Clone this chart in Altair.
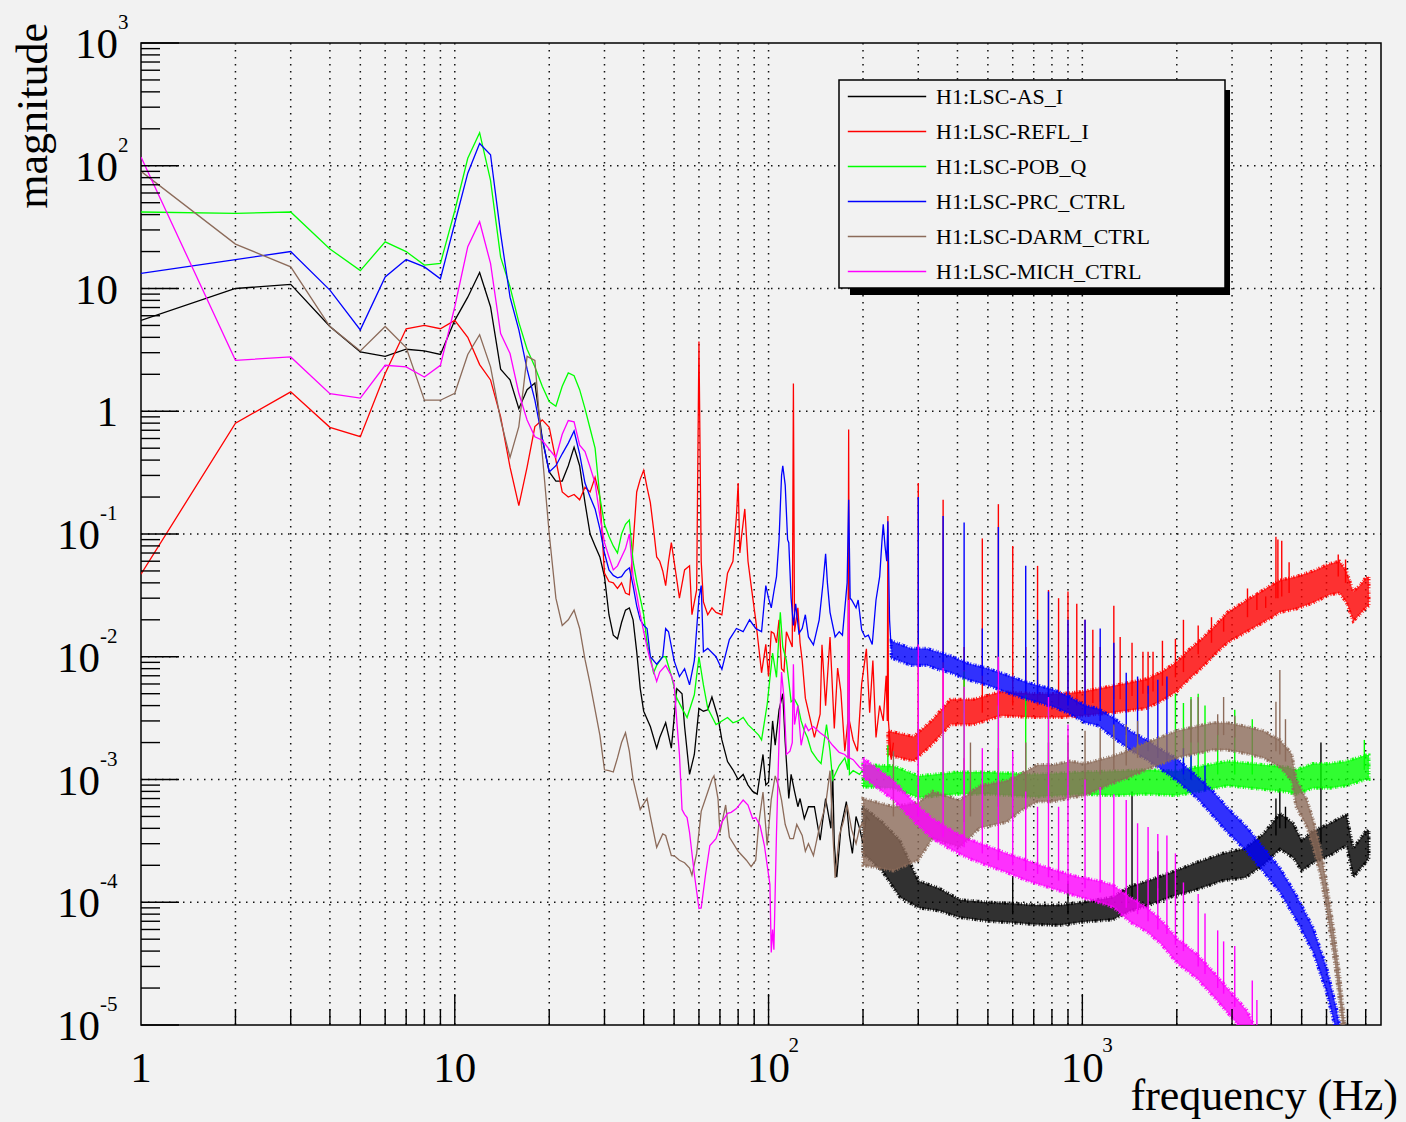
import altair as alt
import pandas as pd

W, H = 1240, 982
BG = "#f2f2f2"
FONT = "Liberation Serif"

NAMES = ["H1:LSC-AS_I", "H1:LSC-REFL_I", "H1:LSC-POB_Q", "H1:LSC-PRC_CTRL",
         "H1:LSC-DARM_CTRL", "H1:LSC-MICH_CTRL"]
COLORS = ["#000000", "#ff0000", "#00ff00", "#0000ff", "#8c6b5a", "#ff00ff"]

# ---------------- traces (frequency Hz, magnitude) ----------------
AS_TRACE = [(1,5.5),(2,10),(3,10.8),(4,4.9),(5,3.05),(6,2.8),(7,3.2),(8,3.1),(9,2.9),(10,5.5),
    (11,8.5),(12,13.5),(13,7.1),(14,2.2),(15,1.8),(16,1.05),(17,1.5),(18,1.7),(19,0.6),(20,0.32),
    (21,0.27),(22,0.27),(23,0.36),(24,0.51),(25,0.36),(26,0.18),(27,0.10),(28,0.08),(29,0.065),(30,0.045),
    (31,0.022),(32,0.015),(33,0.014),(34,0.019),(35,0.024),(36,0.025),(37,0.02),(38,0.011),(39,0.0055),(40,0.0036),
    (42,0.0027),(44,0.0018),(45,0.0022),(47,0.0029),(49,0.0018),(51,0.0055),(53,0.005),(54,0.0027),(56,0.0011),(58,0.0016),
    (60,0.0038),(62,0.0036),(64,0.0037),(66,0.0047),(69,0.0032),(71,0.0021),(74,0.0014),(77,0.0012),(80,0.001),(83,0.0011),
    (86,0.0009),(89,0.0008),(92,0.00076),(96,0.0016),(98,0.0009),(100,0.00095),(103,0.003),(105,0.0019),(108,0.0037),(111,0.005),
    (113,0.002),(116,0.0007),(118,0.0011),(121,0.0008),(124,0.0006),(126,0.0007),(130,0.00048),(134,0.0006),(140,0.0006),(146,0.00032),
    (152,0.0007),(158,0.0004),(160,0.0012),(162,0.0003),(165,0.00016),(170,0.0004),(177,0.00066),(181,0.00035),(185,0.00025),(190,0.0005),
    (195,0.0004),(200,0.0003),(205,0.0005),(210,0.00046)]

REFL_TRACE = [(1,0.047),(2,0.8),(3,1.44),(4,0.74),(5,0.62),(6,2.03),(7,4.7),(8,5.0),(9,4.7),(10,5.5),
    (11,4.0),(12,2.4),(13,1.8),(14,0.9),(15,0.35),(16,0.17),(17,0.35),(18,0.75),(19,0.85),(20,0.74),
    (21,0.4),(22,0.22),(23,0.2),(24,0.21),(25,0.19),(26,0.24),(27,0.22),(28,0.29),(29,0.2),(30,0.048),
    (31,0.041),(32,0.04),(33,0.036),(34,0.04),(35,0.033),(36,0.032),(37,0.082),(38,0.22),(39,0.28),(40,0.33),
    (41,0.24),(42,0.18),(43,0.11),(44,0.065),(45,0.06),(46,0.05),(47,0.038),(48,0.06),(49,0.085),(50,0.06),
    (52,0.03),(54,0.051),(56,0.055),(57,0.022),(59,0.035),(60,3.7),(61,0.06),(62,0.028),(64,0.022),(66,0.025),
    (68,0.023),(71,0.022),(74,0.048),(77,0.06),(79,0.14),(80,0.26),(81,0.07),(82,0.095),(84,0.16),(86,0.06),
    (88,0.038),(91,0.02),(95,0.0074),(98,0.0126),(100,0.0069),(102,0.016),(104,0.0155),(106,0.013),(108,0.02),(110,0.008),
    (112,0.0076),(114,0.016),(119,0.012),(120,1.68),(121,0.016),(124,0.025),(126,0.013),(128,0.0093),(131,0.0046),(137,0.0028),
    (140,0.0022),(146,0.0034),(148,0.0125),(152,0.004),(157,0.0145),(162,0.0026),(166,0.0081),(170,0.0052),(175,0.0017),(179,0.003),
    (180,0.71),(181,0.003),(186,0.0021),(192,0.0017),(198,0.006),(205,0.0116),(210,0.0035),(215,0.0093),(220,0.0022),(226,0.004),
    (232,0.003),(237,0.007),(239,0.003),(240,0.14),(241,0.003),(246,0.00145),(250,0.002)]

POB_TRACE = [(1,42),(2,41),(3,42),(4,21),(5,14),(6,24),(7,20),(8,15.5),(9,16),(10,43),
    (11,115),(12,186),(13,76),(14,18),(15,10.3),(16,5.3),(17,3.2),(18,2.3),(19,1.6),(20,1.2),
    (21,1.1),(22,1.6),(23,2.05),(24,1.95),(25,1.5),(26,1.05),(27,0.72),(28,0.5),(29,0.2),(30,0.12),
    (31,0.096),(32,0.08),(33,0.07),(34,0.1),(35,0.12),(36,0.13),(37,0.06),(38,0.041),(39,0.03),(40,0.022),
    (41,0.013),(42,0.01),(43,0.0074),(44,0.0085),(46,0.01),(47,0.01),(49,0.007),(51,0.0046),(53,0.0038),(55,0.0032),
    (58,0.0049),(60,0.01),(62,0.0059),(64,0.0038),(68,0.0028),(71,0.003),(74,0.0032),(77,0.0029),(80,0.003),(83,0.0032),
    (86,0.0028),(90,0.0025),(93,0.0023),(95,0.0021),(99,0.0041),(103,0.0107),(106,0.0068),(109,0.023),(111,0.012),(114,0.0093),
    (118,0.0043),(121,0.0045),(124,0.004),(127,0.003),(130,0.0025),(133,0.0022),(137,0.0017),(143,0.00145),(147,0.00135),(153,0.0028),
    (157,0.0017),(160,0.001),(168,0.0013),(175,0.0015),(179,0.0012),(180,0.0052),(181,0.0011),(186,0.00118),(195,0.0011),(200,0.0012)]

PRC_TRACE = [(1,13.3),(2,17.2),(3,20),(4,9.7),(5,4.6),(6,12.4),(7,17.2),(8,15),(9,12),(10,34),
    (11,87),(12,152),(13,123),(14,28),(15,8.5),(16,4.6),(17,2.2),(18,1.23),(19,0.6),(20,0.32),
    (21,0.36),(22,0.45),(23,0.55),(24,0.69),(25,0.45),(26,0.26),(27,0.2),(28,0.16),(29,0.11),(30,0.07),
    (31,0.051),(32,0.046),(33,0.044),(34,0.045),(35,0.05),(36,0.053),(37,0.038),(38,0.026),(39,0.02),(40,0.018),
    (41,0.017),(42,0.01),(44,0.0087),(46,0.01),(47,0.017),(48,0.016),(50,0.0093),(52,0.0069),(54,0.008),(56,0.0059),
    (58,0.0093),(60,0.03),(61,0.038),(62,0.011),(64,0.0117),(68,0.01),(71,0.0079),(75,0.0138),(79,0.017),(83,0.016),
    (87,0.02),(91,0.017),(95,0.016),(98,0.038),(100,0.03),(102,0.025),(104,0.034),(106,0.045),(108,0.09),(110,0.3),
    (111,0.36),(113,0.25),(115,0.09),(116,0.085),(118,0.03),(120,0.018),(122,0.027),(125,0.0155),(128,0.017),(131,0.022),
    (134,0.0145),(139,0.0125),(145,0.02),(149,0.039),(152,0.069),(154,0.04),(157,0.023),(163,0.0145),(168,0.016),(172,0.015),
    (178,0.04),(180,0.19),(182,0.03),(184,0.029),(190,0.025),(193,0.029),(198,0.0166),(203,0.0145),(208,0.015),(214,0.0126),
    (220,0.029),(226,0.045),(230,0.09),(232,0.12),(235,0.08),(238,0.06),(240,0.127),(243,0.02),(246,0.0115)]

DARM_TRACE = [(1,90),(2,23),(3,15),(4,4.9),(5,3.1),(6,4.9),(7,3.3),(8,1.23),(9,1.23),(10,1.4),
    (11,2.9),(12,4.2),(13,2.3),(14,0.85),(15,0.42),(16,0.75),(17,2.8),(18,2.6),(19,0.45),(20,0.1),
    (21,0.03),(22,0.018),(23,0.02),(24,0.024),(25,0.017),(26,0.0095),(27,0.006),(28,0.0037),(29,0.0023),(30,0.0012),
    (31,0.00118),(32,0.00115),(33,0.0015),(34,0.002),(35,0.0024),(36,0.0017),(37,0.001),(38,0.00075),(39,0.00057),(41,0.0007),
    (42,0.0005),(44,0.00028),(46,0.00036),(47,0.00035),(49,0.00024),(50,0.00024),(52,0.00022),(54,0.00021),(56,0.00019),(57,0.000166),
    (59,0.00025),(61,0.00055),(64,0.00079),(66,0.001),(67,0.00107),(69,0.0007),(70,0.00037),(73,0.00062),(75,0.00034),(80,0.00026),
    (85,0.00022),(88,0.000195),(91,0.00022),(93,0.00043),(96,0.00079),(99,0.00029),(102,0.00069),(105,0.00107),(108,0.00085),(110,0.00068),
    (113,0.00043),(117,0.00033),(120,0.00033),(123,0.00043),(128,0.00035),(131,0.00026),(134,0.0003),(139,0.00024),(145,0.0004),(152,0.00062),
    (157,0.00118),(160,0.0004),(163,0.000158),(168,0.00035),(173,0.00045),(178,0.00062),(184,0.00039),(190,0.0003),(195,0.0004),(200,0.00045)]

MICH_TRACE = [(1,118),(2,2.6),(3,2.77),(4,1.39),(5,1.28),(6,2.37),(7,2.3),(8,1.9),(9,2.37),(10,7.1),
    (11,21.9),(12,35),(13,16),(14,4.3),(15,2.95),(16,1.4),(17,0.85),(18,0.62),(19,0.58),(20,0.49),
    (21,0.42),(22,0.65),(23,0.84),(24,0.82),(25,0.53),(26,0.47),(27,0.35),(28,0.26),(29,0.14),(30,0.085),
    (31,0.065),(32,0.051),(33,0.055),(34,0.065),(35,0.076),(36,0.1),(37,0.045),(38,0.032),(39,0.022),(40,0.016),
    (41,0.012),(42,0.0093),(44,0.0063),(45,0.0075),(47,0.0085),(49,0.007),(50,0.006),(51,0.003),(52,0.0016),(53,0.00057),
    (54,0.00052),(55,0.00049),(56,0.00037),(58,0.00017),(60,8.9e-5),(61,9e-5),(63,0.00017),(65,0.00029),(68,0.00033),(71,0.00045),
    (74,0.00053),(76,0.00054),(79,0.00058),(83,0.00068),(86,0.00062),(89,0.00048),(91,0.00049),(94,0.00042),(97,0.00029),(99,0.0002),
    (101,0.00014),(102,3.9e-5),(103,6e-5),(104,4.1e-5),(106,0.00037),(108,0.0021),(110,0.0075),(112,0.0046),(114,0.0016),(117,0.0017),
    (119,0.002),(120,0.0087),(121,0.0028),(124,0.004),(127,0.0019),(131,0.0028),(134,0.0025),(139,0.0027),(146,0.0024),(153,0.0022),
    (160,0.0019),(168,0.00166),(175,0.0016),(179,0.0015),(180,0.029),(181,0.0015),(186,0.00145),(195,0.00126),(200,0.0012)]

# ---------------- dense-noise envelopes (frequency, low, high) ----------------
AS_BAND = [(200,2.5e-4,6e-4),(230,1.8e-4,4.5e-4),(262,1.1e-4,3.2e-4),(300,9e-5,1.5e-4),(350,8.5e-5,1.3e-4),
    (407,7.5e-5,1.05e-4),(500,7e-5,1.0e-4),(600,6.8e-5,9.8e-5),(700,6.6e-5,9.5e-5),(850,6.5e-5,9.5e-5),
    (1000,6.9e-5,1.0e-4),(1250,7.2e-5,1.1e-4),(1420,8.5e-5,1.35e-4),(1600,9.3e-5,1.48e-4),
    (1950,1.12e-4,1.78e-4),(2300,1.26e-4,2.1e-4),(2800,1.5e-4,2.5e-4),(3300,1.58e-4,2.75e-4),(3770,2.0e-4,3.6e-4),
    (4265,2.7e-4,5.3e-4),(4700,2.3e-4,4.4e-4),(5000,1.8e-4,3.2e-4),(5440,2.1e-4,3.8e-4),(6150,2.4e-4,4.4e-4),
    (6950,2.9e-4,5.2e-4),(7300,1.6e-4,2.75e-4),(8000,2.1e-4,3.8e-4),(8192,2.3e-4,3.9e-4)]

REFL_BAND = [(240,1.58e-3,2.5e-3),(290,1.41e-3,2.24e-3),(330,1.9e-3,3.0e-3),(380,2.8e-3,4.5e-3),(450,2.8e-3,4.5e-3),
    (550,3.3e-3,5.2e-3),(700,3.2e-3,5.0e-3),(850,3.2e-3,5.0e-3),(1000,3.3e-3,5.2e-3),(1250,3.5e-3,5.8e-3),
    (1600,3.8e-3,6.6e-3),(1800,4.4e-3,7.6e-3),(2000,5.2e-3,9.1e-3),(2150,6.3e-3,1.1e-2),(2400,8.1e-3,1.4e-2),
    (2650,1.05e-2,1.8e-2),(2900,1.3e-2,2.3e-2),(3340,1.6e-2,2.9e-2),(3770,1.9e-2,3.5e-2),(4265,2.3e-2,4.2e-2),
    (4800,2.45e-2,4.5e-2),(5440,2.75e-2,5.0e-2),(6150,3.2e-2,5.75e-2),(6600,3.3e-2,6.0e-2),(6950,2.75e-2,5.0e-2),
    (7300,1.95e-2,3.4e-2),(7650,2.2e-2,3.8e-2),(8000,2.5e-2,4.4e-2),(8192,2.6e-2,4.5e-2)]

POB_BAND = [(200,8.7e-4,1.32e-3),(250,8.5e-4,1.29e-3),(300,7.1e-4,1.07e-3),(400,7.6e-4,1.15e-3),(500,7.6e-4,1.15e-3),
    (700,7.2e-4,1.1e-3),(1000,7.6e-4,1.15e-3),(1250,7.4e-4,1.17e-3),(1600,7.6e-4,1.2e-3),(2000,7.4e-4,1.17e-3),
    (2300,7.9e-4,1.26e-3),(2900,8.9e-4,1.41e-3),(3770,8.3e-4,1.32e-3),(4500,7.9e-4,1.26e-3),(4800,7.6e-4,1.2e-3),
    (5440,8.5e-4,1.35e-3),(6150,8.5e-4,1.35e-3),(6950,8.9e-4,1.41e-3),(8000,1.0e-3,1.58e-3),(8192,1.0e-3,1.58e-3)]

PRC_BAND = [(246,9.8e-3,1.35e-2),(264,9.1e-3,1.26e-2),(285,8.5e-3,1.17e-2),(320,8.5e-3,1.17e-2),(345,7.9e-3,1.1e-2),
    (380,7.4e-3,1.02e-2),(430,6.5e-3,8.9e-3),(495,5.9e-3,8.1e-3),(575,5.1e-3,7.1e-3),(665,4.5e-3,6.2e-3),
    (810,3.9e-3,5.4e-3),(915,3.4e-3,4.7e-3),(1020,2.9e-3,4.0e-3),(1120,2.75e-3,3.8e-3),(1254,2.2e-3,3.2e-3),
    (1418,1.74e-3,2.5e-3),(1605,1.45e-3,2.1e-3),(1790,1.2e-3,1.74e-3),(2000,9.8e-4,1.48e-3),(2313,7.1e-4,1.07e-3),
    (2600,5.1e-4,8.1e-4),(2900,3.7e-4,5.9e-4),(3340,2.6e-4,4.1e-4),(3770,1.78e-4,2.8e-4),(4265,1.2e-4,1.9e-4),
    (4800,7.2e-5,1.15e-4),(5440,3.9e-5,6.2e-5),(6000,1.86e-5,2.95e-5),(6450,8.7e-6,1.38e-5),(6800,4e-6,6.5e-6)]

DARM_BAND = [(200,2e-4,7e-4),(250,1.8e-4,6e-4),(300,2.2e-4,6.5e-4),(333,3.3e-4,8e-4),(407,2.8e-4,6.8e-4),
    (470,4.0e-4,8.9e-4),(575,4.5e-4,9.8e-4),(640,5.6e-4,1.12e-3),(720,6.6e-4,1.32e-3),(810,6.6e-4,1.32e-3),
    (915,7.1e-4,1.41e-3),(1020,7.4e-4,1.35e-3),(1250,9.3e-4,1.55e-3),(1420,1.05e-3,1.74e-3),(1600,1.2e-3,2.0e-3),
    (1800,1.35e-3,2.24e-3),(2000,1.5e-3,2.5e-3),(2300,1.62e-3,2.7e-3),(2600,1.74e-3,2.9e-3),(2900,1.74e-3,2.9e-3),
    (3340,1.62e-3,2.7e-3),(3770,1.5e-3,2.5e-3),(4265,1.26e-3,2.1e-3),(4650,9.8e-4,1.62e-3),(4800,6.0e-4,1.0e-3),
    (5200,4.1e-4,6.8e-4),(5440,2.8e-4,4.7e-4),(5750,1.62e-4,2.7e-4),(6000,8.7e-5,1.45e-4),(6350,3.4e-5,5.6e-5),
    (6600,1.58e-5,2.6e-5),(6800,7.6e-6,1.26e-5),(7000,3.8e-6,6.3e-6)]

MICH_BAND = [(200,1.05e-3,1.5e-3),(250,6.8e-4,9.8e-4),(295,4.4e-4,6.3e-4),(333,3.3e-4,4.8e-4),(380,2.7e-4,3.9e-4),
    (430,2.3e-4,3.3e-4),(495,2.0e-4,2.9e-4),(575,1.74e-4,2.5e-4),(665,1.5e-4,2.2e-4),(780,1.32e-4,1.9e-4),
    (960,1.12e-4,1.62e-4),(1125,1.0e-4,1.5e-4),(1254,9.1e-5,1.38e-4),(1418,6.9e-5,1.1e-4),(1605,5.75e-5,9.1e-5),
    (1790,4.5e-5,7.1e-5),(2000,3.2e-5,5.1e-5),(2313,2.4e-5,3.8e-5),(2600,1.74e-5,2.75e-5),(2900,1.26e-5,2.0e-5),
    (3340,8.3e-6,1.32e-5),(3600,5.6e-6,8.9e-6)]

# ---------------- line spikes (frequency, base, peak) ----------------
AS_SPIKES = [(600,8e-5,1.6e-4),(900,8e-5,1.5e-4),(1440,1.1e-4,8e-4),(1740,1.3e-4,2.6e-4),(4140,3.5e-4,7e-4),
    (4260,4e-4,8.5e-4),(4440,4e-4,6e-4),(5760,3e-4,2e-3)]

REFL_SPIKES = [(300,1.7e-3,0.26),(360,2.4e-3,0.19),(420,3.5e-3,0.012),(480,3.5e-3,0.092),(540,4e-3,0.175),
    (600,4e-3,0.08),(660,4e-3,0.012),(720,4e-3,0.055),(780,4e-3,0.035),(840,4e-3,0.03),(900,4e-3,0.034),
    (960,4e-3,0.027),(1020,4.2e-3,0.02),(1080,4.2e-3,0.0166),(1140,4.3e-3,0.012),(1260,4.5e-3,0.026),
    (1320,4.5e-3,0.0145),(1440,4.8e-3,0.013),(1560,5e-3,0.011),(1620,5e-3,0.011),(1680,5.2e-3,0.011),
    (1800,5.8e-3,0.0135),(1980,6.8e-3,0.014),(2100,7.5e-3,0.02),(2340,1.05e-2,0.018),(2580,1.3e-2,0.021),
    (2820,1.6e-2,0.021),(3360,2.1e-2,0.036),(3600,2.4e-2,0.033),(3840,2.5e-2,0.031),(4140,3e-2,0.095),
    (4200,3e-2,0.09),(4320,3.1e-2,0.088),(4560,3.3e-2,0.059),(6540,4.5e-2,0.068),(6900,4e-2,0.062)]

POB_SPIKES = [(240,1.15e-3,1.9e-3),(360,1e-3,3.6e-3),(420,1e-3,7.6e-3),(540,1e-3,4e-3),(660,1e-3,4.9e-3),
    (780,9.5e-4,3.6e-3),(900,9.5e-4,2e-3),(1980,1e-3,5e-3),(2100,1e-3,4.2e-3),(2220,1e-3,4.7e-3),
    (2340,1e-3,5e-3),(2460,1e-3,4e-3),(2700,1.1e-3,2.8e-3),(3060,1.1e-3,3.7e-3),(3480,1.1e-3,3.1e-3),
    (7920,1.2e-3,2.1e-3)]

PRC_SPIKES = [(300,1e-2,0.2),(360,9e-3,0.14),(420,7.8e-3,0.124),(480,7e-3,0.017),(540,6e-3,0.114),
    (660,5.2e-3,0.055),(720,5e-3,0.02),(780,4.6e-3,0.034),(900,4e-3,0.02),(1020,3.4e-3,0.02),
    (1140,3e-3,0.017),(1260,2.7e-3,0.013),(1380,2.3e-3,0.0074),(1500,2e-3,0.0069),(1620,1.7e-3,0.0058),
    (1740,1.5e-3,0.0065),(1860,1.4e-3,0.0069),(2100,1.1e-3,0.0018),(2220,1e-3,0.0016),(2460,8e-4,0.0013)]

DARM_SPIKES = [(250,5e-4,1.7e-3),(300,5e-4,2.8e-3),(420,4.5e-4,1.5e-3),(440,5e-4,2e-3),(540,6e-4,1.8e-3),
    (660,7e-4,2e-3),(780,9e-4,2e-3),(900,1e-3,2.3e-3),(1020,1e-3,2.5e-3),(1140,1.1e-3,2.6e-3),
    (1260,1.2e-3,2.8e-3),(1380,1.3e-3,2.8e-3),(1500,1.5e-3,3e-3),(2220,2e-3,4.5e-3),(2340,2e-3,4.7e-3),
    (2700,2.3e-3,3.4e-3),(2820,2.3e-3,4.7e-3),(3060,2.2e-3,3.3e-3),(4140,1.7e-3,4.3e-3),(4260,1.6e-3,7.8e-3),
    (4440,1.4e-3,3.1e-3)]

MICH_SPIKES = [(300,5e-4,0.0126),(360,3.4e-4,0.0081),(420,2.8e-4,0.0057),(480,2.5e-4,0.0018),(540,2.2e-4,0.01),
    (600,2e-4,0.0017),(660,1.8e-4,8e-4),(720,1.7e-4,6e-4),(780,1.6e-4,0.0047),(840,1.5e-4,6e-4),
    (900,1.4e-4,0.0028),(1020,1.3e-4,0.001),(1140,1.2e-4,8.7e-4),(1260,1.1e-4,7.6e-4),(1380,9e-5,6.8e-4),
    (1500,8e-5,4.4e-4),(1620,7e-5,4.1e-4),(1740,6e-5,3.6e-4),(1860,5.5e-5,3.5e-4),(1980,4.5e-5,2.5e-4),
    (2100,4e-5,1.45e-4),(2340,3e-5,1.17e-4),(2460,2.6e-5,8.1e-5),(2700,2e-5,5.9e-5),(2820,1.8e-5,4.8e-5),
    (3060,1.4e-5,4.4e-5),(3480,8e-6,2.3e-5),(3600,6e-6,1.6e-5)]

SERIES = [
    (NAMES[0], COLORS[0], AS_TRACE, AS_BAND, AS_SPIKES),
    (NAMES[1], COLORS[1], REFL_TRACE, REFL_BAND, REFL_SPIKES),
    (NAMES[2], COLORS[2], POB_TRACE, POB_BAND, POB_SPIKES),
    (NAMES[3], COLORS[3], PRC_TRACE, PRC_BAND, PRC_SPIKES),
    (NAMES[4], COLORS[4], DARM_TRACE, DARM_BAND, DARM_SPIKES),
    (NAMES[5], COLORS[5], MICH_TRACE, MICH_BAND, MICH_SPIKES),
]

# ---------------- axis ticks / labels ----------------
X_MAJOR = [10, 100, 1000]
X_MINOR = [m * 10 ** e for e in range(4) for m in range(2, 10) if m * 10 ** e < 8950]
X_GRID = [m * 10 ** e for e in range(4) for m in range(1, 10) if 1 < m * 10 ** e < 8950]
Y_MAJOR = [1e-5, 1e-4, 1e-3, 1e-2, 1e-1, 1, 10, 100, 1000]
Y_MINOR = [m * 10.0 ** e for e in range(-5, 3) for m in range(2, 10)]
Y_GRID = [1e-4, 1e-3, 1e-2, 1e-1, 1, 10, 100]

X_LABELS = pd.DataFrame({"v": [1, 10, 100, 1000], "base": ["1", "10", "10", "10"], "exp": ["", "", "2", "3"]})
Y_LABELS = pd.DataFrame({"v": [1000, 100, 10, 1, 0.1, 0.01, 0.001, 1e-4, 1e-5],
                         "base": ["10", "10", "10", "1", "10", "10", "10", "10", "10"],
                         "exp": ["3", "2", "", "", "-1", "-2", "-3", "-4", "-5"]})

xs = alt.Scale(type="log", domain=[1, 8950])
ys = alt.Scale(type="log", domain=[1e-5, 1e3])


def X(f):
    return alt.X(f, type="quantitative", scale=xs, axis=None)


def Y(f):
    return alt.Y(f, type="quantitative", scale=ys, axis=None)


layers = []

# grid
GRID_STYLE = dict(color="#111111", strokeWidth=1.5, strokeDash=[1.5, 5.5])
layers.append(alt.Chart(pd.DataFrame({"f": X_GRID})).mark_rule(**GRID_STYLE).encode(
    x=X("f"), y=alt.value(0), y2=alt.value(H)))
layers.append(alt.Chart(pd.DataFrame({"v": Y_GRID})).mark_rule(**GRID_STYLE).encode(
    y=Y("v"), x=alt.value(0), x2=alt.value(W)))

legend = alt.Legend(
    orient="none", legendX=698, legendY=42.5, direction="vertical", title=None,
    symbolType="M-8,0L8,0", symbolSize=96, symbolStrokeWidth=1.5,
    labelFont=FONT, labelFontSize=22, labelColor="black",
    symbolOffset=37, labelOffset=38, rowPadding=13, padding=0, labelLimit=400)
color_scale = alt.Scale(domain=NAMES, range=COLORS)

# irregular dash on the band outline to give the dense-noise edges a ragged look
EDGE_DASH = [1, 1.4, 2.2, 0.8, 0.6, 1.9, 1.3, 1.1, 0.7, 2.4]

for name, col, trace, band, spikes in SERIES:
    bdf = pd.DataFrame(band, columns=["f", "lo", "hi"])
    layers.append(alt.Chart(bdf).mark_area(
        color=col, fillOpacity=0.8, stroke=col, strokeWidth=3.2, strokeDash=EDGE_DASH,
        strokeOpacity=0.9, clip=True).encode(x=X("f"), y=Y("lo"), y2=alt.Y2("hi")))
    tdf = pd.DataFrame(trace, columns=["f", "m"])
    tdf["series"] = name
    layers.append(alt.Chart(tdf).mark_line(strokeWidth=1.3, clip=True).encode(
        x=X("f"), y=Y("m"), color=alt.Color("series:N", scale=color_scale, legend=legend)))
    sdf = pd.DataFrame(spikes, columns=["f", "lo", "hi"])
    layers.append(alt.Chart(sdf).mark_rule(color=col, strokeWidth=1.4, clip=True).encode(
        x=X("f"), y=Y("lo"), y2=alt.Y2("hi")))

# ticks
layers.append(alt.Chart(pd.DataFrame({"v": Y_MAJOR})).mark_rule(color="black", strokeWidth=1.4).encode(
    y=Y("v"), x=alt.value(0), x2=alt.value(38)))
layers.append(alt.Chart(pd.DataFrame({"v": Y_MINOR})).mark_rule(color="black", strokeWidth=1.4).encode(
    y=Y("v"), x=alt.value(0), x2=alt.value(19)))
layers.append(alt.Chart(pd.DataFrame({"f": X_MAJOR})).mark_rule(color="black", strokeWidth=1.4).encode(
    x=X("f"), y=alt.value(H), y2=alt.value(H - 31)))
layers.append(alt.Chart(pd.DataFrame({"f": X_MINOR})).mark_rule(color="black", strokeWidth=1.4).encode(
    x=X("f"), y=alt.value(H), y2=alt.value(H - 16)))

# tick labels
txt = dict(font=FONT, color="black")
layers.append(alt.Chart(X_LABELS).mark_text(fontSize=43, align="center", baseline="alphabetic", **txt).encode(
    x=X("v"), y=alt.value(H + 57), text="base:N"))
layers.append(alt.Chart(X_LABELS).mark_text(fontSize=21, align="left", baseline="alphabetic", dx=20, **txt).encode(
    x=X("v"), y=alt.value(H + 27), text="exp:N"))

ypos = Y_LABELS[~Y_LABELS["exp"].str.startswith("-")]
yneg = Y_LABELS[Y_LABELS["exp"].str.startswith("-")]
layers.append(alt.Chart(ypos).mark_text(fontSize=43, align="right", baseline="alphabetic", dy=15, **txt).encode(
    y=Y("v"), x=alt.value(-23), text="base:N"))
layers.append(alt.Chart(ypos).mark_text(fontSize=21, align="left", baseline="alphabetic", dy=-14, **txt).encode(
    y=Y("v"), x=alt.value(-23), text="exp:N"))
layers.append(alt.Chart(yneg).mark_text(fontSize=43, align="right", baseline="alphabetic", dy=15, **txt).encode(
    y=Y("v"), x=alt.value(-41), text="base:N"))
layers.append(alt.Chart(yneg).mark_text(fontSize=21, align="left", baseline="alphabetic", dy=-14, **txt).encode(
    y=Y("v"), x=alt.value(-41), text="exp:N"))

# axis titles
layers.append(alt.Chart(pd.DataFrame({"t": ["frequency (Hz)"]})).mark_text(
    fontSize=44, align="right", baseline="alphabetic", **txt).encode(
    x=alt.value(W + 17), y=alt.value(H + 85), text="t:N"))
layers.append(alt.Chart(pd.DataFrame({"t": ["magnitude"]})).mark_text(
    fontSize=44, align="right", baseline="alphabetic", angle=270, **txt).encode(
    x=alt.value(-94), y=alt.value(-20), text="t:N"))

# legend box with shadow
one = pd.DataFrame({"k": [0]})
layers.append(alt.Chart(one).mark_rect(color="black").encode(
    x=alt.value(709), x2=alt.value(1089), y=alt.value(47), y2=alt.value(252)))
layers.append(alt.Chart(one).mark_rect(fill=BG, stroke="black", strokeWidth=1.5).encode(
    x=alt.value(698), x2=alt.value(1084), y=alt.value(37), y2=alt.value(245)))

chart = alt.layer(*layers).properties(
    width=W, height=H,
    autosize=alt.AutoSizeParams(type="none"),
    padding={"left": 141, "top": 43, "right": 25, "bottom": 97},
).configure(background=BG).configure_view(stroke="black", strokeWidth=1.5, fill=BG)

chart.save("out.html", embed_options={"renderer": "svg", "actions": False})
